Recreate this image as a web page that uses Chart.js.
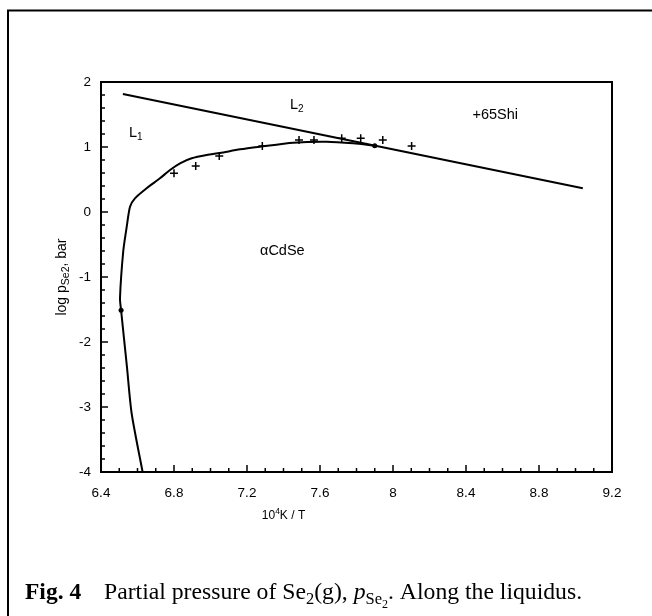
<!DOCTYPE html>
<html>
<head>
<meta charset="utf-8">
<script src="https://cdn.jsdelivr.net/npm/chart.js@4.4.1/dist/chart.umd.min.js"></script>
<style>
  html, body { margin: 0; padding: 0; background: #fff; }
  #c { display: block; }
</style>
</head>
<body>
<canvas id="c" width="652" height="616"></canvas>
<script>
// ---- data ----
const xTickValues = [6.4, 6.8, 7.2, 7.6, 8.0, 8.4, 8.8, 9.2];
const xTickLabels = ["6.4", "6.8", "7.2", "7.6", "8", "8.4", "8.8", "9.2"];
const yTickValues = [2, 1, 0, -1, -2, -3, -4];
const yTickLabels = ["2", "1", "0", "-1", "-2", "-3", "-4"];

// straight boundary L1 / L2
const boundaryX = [6.52, 9.04];
const boundaryY = [1.815, 0.364];

// liquidus curve of alpha-CdSe
const liquidusX = [6.628, 6.568, 6.542, 6.51, 6.504, 6.522, 6.541, 6.559, 6.586, 6.65, 6.723, 6.778, 6.833, 6.897, 6.979, 7.052, 7.162, 7.271, 7.454, 7.637, 7.782, 7.90];
const liquidusY = [-4.0, -3.10, -2.38, -1.51, -1.33, -0.60, -0.226, 0.082, 0.21, 0.365, 0.518, 0.646, 0.749, 0.826, 0.877, 0.908, 0.964, 1.005, 1.067, 1.082, 1.057, 1.02];

// +65Shi measurements
const shiX = [6.80, 6.919, 7.048, 7.284, 7.485, 7.567, 7.719, 7.823, 7.944, 8.102];
const shiY = [0.595, 0.708, 0.862, 1.015, 1.108, 1.108, 1.133, 1.133, 1.108, 1.015];

// special points (dots)
const dotX = [6.51, 7.90];
const dotY = [-1.51, 1.02];

const toXY = (xs, ys) => xs.map((x, i) => ({ x: x, y: ys[i] }));

const SANS = "'Liberation Sans', Arial, Helvetica, sans-serif";
const SERIF = "'Liberation Serif', 'Times New Roman', serif";

function drawRich(ctx, parts, x, y, align) {
  let total = 0;
  parts.forEach(p => { ctx.font = p.font; total += ctx.measureText(p.t).width; });
  let cx = x;
  if (align === 'center') cx = x - total / 2;
  ctx.textAlign = 'left';
  ctx.textBaseline = 'alphabetic';
  parts.forEach(p => {
    ctx.font = p.font;
    ctx.fillText(p.t, cx, y + (p.dy || 0));
    cx += ctx.measureText(p.t).width;
  });
}

const decor = {
  id: 'decor',
  afterDraw(chart) {
    const ctx = chart.ctx;
    const a = chart.chartArea;
    const xs = chart.scales.x, ys = chart.scales.y;
    ctx.save();
    ctx.strokeStyle = '#000';
    ctx.fillStyle = '#000';

    // top and right sides of the plot box
    ctx.lineWidth = 2;
    ctx.beginPath();
    ctx.moveTo(a.left, a.top); ctx.lineTo(a.right, a.top); ctx.lineTo(a.right, a.bottom);
    ctx.stroke();

    // inward ticks on bottom axis
    ctx.lineWidth = 1.5;
    for (let i = 0; i <= 28; i++) {
      const v = 6.4 + i * 0.1;
      const px = xs.getPixelForValue(v);
      const len = (i % 4 === 0) ? 7 : 4;
      ctx.beginPath(); ctx.moveTo(px, a.bottom); ctx.lineTo(px, a.bottom - len); ctx.stroke();
    }
    // inward ticks on left axis
    for (let i = 0; i <= 30; i++) {
      const v = -4 + i * 0.2;
      const py = ys.getPixelForValue(v);
      const len = (i % 5 === 0) ? 7 : 4;
      ctx.beginPath(); ctx.moveTo(a.left, py); ctx.lineTo(a.left + len, py); ctx.stroke();
    }

    // axis titles
    drawRich(ctx, [
      { t: '10', font: '12px ' + SANS },
      { t: '4', font: '8.5px ' + SANS, dy: -5 },
      { t: 'K / T', font: '12px ' + SANS }
    ], 283.5, 519, 'center');

    ctx.save();
    ctx.translate(62, 277);
    ctx.rotate(-Math.PI / 2);
    drawRich(ctx, [
      { t: 'log p', font: '14px ' + SANS },
      { t: 'Se2', font: '10.5px ' + SANS, dy: 3 },
      { t: ', bar', font: '14px ' + SANS }
    ], 0, 3.5, 'center');
    ctx.restore();

    // region labels
    const F = '14.5px ' + SANS, FS = '10px ' + SANS;
    drawRich(ctx, [{ t: 'L', font: F }, { t: '1', font: FS, dy: 3 }], 129, 137);
    drawRich(ctx, [{ t: 'L', font: F }, { t: '2', font: FS, dy: 3 }], 290, 109);
    drawRich(ctx, [{ t: '+65Shi', font: F }], 472.5, 119);
    drawRich(ctx, [{ t: '\u03B1CdSe', font: F }], 260, 255);

    // caption
    drawRich(ctx, [{ t: 'Fig. 4', font: 'bold 23.5px ' + SERIF }], 25, 599);
    drawRich(ctx, [
      { t: 'Partial pressure of Se', font: '23.7px ' + SERIF },
      { t: '2', font: '16.5px ' + SERIF, dy: 5 },
      { t: '(g), ', font: '23.7px ' + SERIF },
      { t: 'p', font: 'italic 23.7px ' + SERIF },
      { t: 'Se', font: '16.5px ' + SERIF, dy: 5 },
      { t: '2', font: '12px ' + SERIF, dy: 9 },
      { t: '. Along the liquidus.', font: '23.7px ' + SERIF }
    ], 104, 599);

    // outer frame (left and top)
    ctx.lineWidth = 2;
    ctx.beginPath();
    ctx.moveTo(8, 616); ctx.lineTo(8, 10.5); ctx.lineTo(652, 10.5);
    ctx.stroke();
    ctx.restore();
  }
};

const whiteBg = {
  id: 'whiteBg',
  beforeDraw(chart) {
    const ctx = chart.ctx;
    ctx.save(); ctx.fillStyle = '#fff'; ctx.fillRect(0, 0, chart.width, chart.height); ctx.restore();
  }
};

function nearestLabel(values, labels, v) {
  let best = -1, bd = 1e9;
  values.forEach((t, i) => { const d = Math.abs(t - v); if (d < bd) { bd = d; best = i; } });
  return bd < 1e-6 ? labels[best] : '';
}

new Chart(document.getElementById('c'), {
  type: 'scatter',
  data: {
    datasets: [
      { label: 'L1/L2', data: toXY(boundaryX, boundaryY), showLine: true, borderColor: '#000', borderWidth: 2, pointRadius: 0, fill: false },
      { label: 'liquidus', data: toXY(liquidusX, liquidusY), showLine: true, borderColor: '#000', borderWidth: 2, pointRadius: 0, tension: 0.25, fill: false },
      { label: '65Shi', data: toXY(shiX, shiY), showLine: false, pointStyle: 'cross', pointRadius: 4, borderColor: '#000', borderWidth: 1.5 },
      { label: 'dots', data: toXY(dotX, dotY), showLine: false, pointStyle: 'circle', pointRadius: 2.5, backgroundColor: '#000', borderColor: '#000', borderWidth: 0 }
    ]
  },
  options: {
    responsive: false,
    animation: false,
    devicePixelRatio: 1,
    layout: { padding: { left: 0, top: 82, right: 40, bottom: 0 } },
    plugins: { legend: { display: false }, tooltip: { enabled: false } },
    scales: {
      x: {
        type: 'linear', min: 6.4, max: 9.2,
        afterFit(s) { s.height = 144; },
        afterBuildTicks(s) { s.ticks = xTickValues.map(v => ({ value: v })); },
        ticks: {
          padding: 13, color: '#000', font: { family: SANS, size: 13.5 },
          maxRotation: 0, autoSkip: false,
          callback: v => nearestLabel(xTickValues, xTickLabels, v)
        },
        grid: { display: false, drawTicks: false },
        border: { display: true, color: '#000', width: 2 }
      },
      y: {
        type: 'linear', min: -4, max: 2,
        afterFit(s) { s.width = 101; },
        afterBuildTicks(s) { s.ticks = yTickValues.map(v => ({ value: v })); },
        ticks: {
          padding: 10, color: '#000', font: { family: SANS, size: 13.5 },
          autoSkip: false,
          callback: v => nearestLabel(yTickValues, yTickLabels, v)
        },
        grid: { display: false, drawTicks: false },
        border: { display: true, color: '#000', width: 2 }
      }
    }
  },
  plugins: [whiteBg, decor]
});
</script>
</body>
</html>
